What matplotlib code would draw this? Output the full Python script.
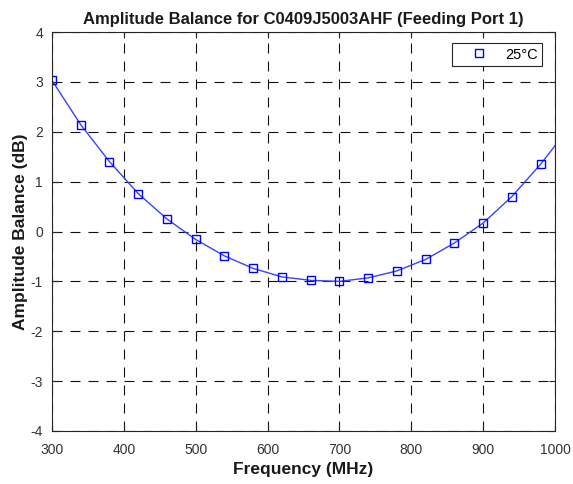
import matplotlib
matplotlib.use("Agg")
import matplotlib.pyplot as plt

freq_markers = [300, 340, 380, 420, 460, 500, 540, 580, 620, 660, 700, 740, 780, 820, 860, 900, 940, 980]
balance_markers = [3.03, 2.14, 1.40, 0.76, 0.25, -0.16, -0.49, -0.74, -0.91, -0.98, -1.00, -0.93, -0.79, -0.56, -0.23, 0.17, 0.70, 1.35]
freq_line = freq_markers + [1000]
balance_line = balance_markers + [1.72]

xticks = [300, 400, 500, 600, 700, 800, 900, 1000]
yticks = [-4, -3, -2, -1, 0, 1, 2, 3, 4]

plt.rcParams['font.family'] = ['Liberation Sans', 'DejaVu Sans']
plt.rcParams['axes.unicode_minus'] = False

fig = plt.figure(figsize=(5.73, 4.84), dpi=100)
ax = fig.add_axes([52/573, 1-431/484, (555-52)/573, (431-32)/484])

ax.plot(freq_line, balance_line, color='#3344ff', lw=1.0)
ax.plot(freq_markers, balance_markers, linestyle='none', marker='s', markersize=6,
        markerfacecolor='none', markeredgecolor='#0000ff', markeredgewidth=1.0, label='25°C')

ax.set_xlim(300, 1000)
ax.set_ylim(-4, 4)
ax.set_xticks(xticks)
ax.set_yticks(yticks)
ax.grid(True, color='#111111', linestyle=(0, (9, 7.2)), linewidth=0.8)
ax.tick_params(direction='in', top=True, right=True, labelsize=10, length=4, color='#262626', labelcolor='#333333')
ax.tick_params(axis='x', pad=8.5)
ax.tick_params(axis='y', pad=6.5)
for s in ax.spines.values():
    s.set_color('#262626')
    s.set_linewidth(0.8)

ax.set_xlabel('Frequency (MHz)', fontsize=12.5, fontweight='bold', color='#1a1a1a', labelpad=4)
ax.set_ylabel('Amplitude Balance (dB)', fontsize=12.5, fontweight='bold', color='#1a1a1a', labelpad=2)
ax.set_title('Amplitude Balance for C0409J5003AHF (Feeding Port 1)', fontsize=12, fontweight='bold', color='#1a1a1a', pad=6)

leg = ax.legend(loc='upper right', fontsize=10.5, frameon=True, fancybox=False, framealpha=1,
                edgecolor='#262626', handlelength=3, handletextpad=0.3, borderpad=0.3,
                borderaxespad=0, bbox_to_anchor=(0.974, 0.972))
leg.get_frame().set_linewidth(0.8)

fig.savefig('out.png', dpi=100)
